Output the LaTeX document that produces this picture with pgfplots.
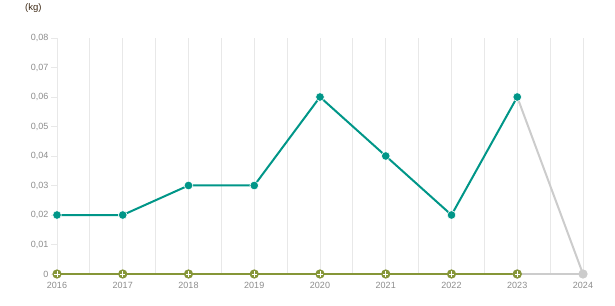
\documentclass[border=0pt]{standalone}
\usepackage{pgfplots}
\pgfplotsset{compat=1.18}
\usepackage{fontspec}
\setmainfont{Liberation Sans}
\definecolor{tealline}{RGB}{0,150,136}
\definecolor{oliveline}{RGB}{134,150,56}
\definecolor{fcgray}{RGB}{204,204,204}
\definecolor{gridc}{RGB}{232,232,232}
\definecolor{labc}{RGB}{140,140,140}
\definecolor{unitc}{RGB}{60,40,20}

\pgfplotstableread{
year val
2016 0.02
2017 0.02
2018 0.03
2019 0.03
2020 0.06
2021 0.04
2022 0.02
2023 0.06
}\measured
\pgfplotstableread{
year val
2023 0.06
2024 0
}\forecast
\pgfplotstableread{
year val
2016 0
2017 0
2018 0
2019 0
2020 0
2021 0
2022 0
2023 0
}\baseline
\pgfplotstableread{
year val
2023 0
2024 0
}\baseforecast

\begin{document}
\begin{tikzpicture}[x=1pt,y=1pt]
\path[use as bounding box] (0,0) rectangle (615,305);
\node[anchor=west, inner sep=0pt, text=unitc, font=\fontsize{9.5}{10}\selectfont] at (25,297) {(kg)};
\begin{axis}[
  at={(57pt,31pt)}, anchor=south west,
  scale only axis, width=526pt, height=236pt,
  xmin=2016, xmax=2024, ymin=0, ymax=0.08,
  clip=false,
  scaled y ticks=false,
  axis line style={draw=none},
  xtick={2016,2017,2018,2019,2020,2021,2022,2023,2024},
  xticklabels={2016,2017,2018,2019,2020,2021,2022,2023,2024},
  minor x tick num=1,
  xmajorgrids, xminorgrids,
  major grid style={gridc, line width=0.8pt},
  minor grid style={gridc, line width=0.8pt},
  xtick style={draw=none},
  minor x tick style={draw=none},
  ytick={0,0.01,0.02,0.03,0.04,0.05,0.06,0.07,0.08},
  yticklabels={0,{0,01},{0,02},{0,03},{0,04},{0,05},{0,06},{0,07},{0,08}},
  ytick pos=left,
  tick align=outside,
  major tick length=6pt,
  ytick style={draw=gridc, line width=0.8pt},
  ticklabel style={text=labc, font=\fontsize{9}{10}\selectfont},
  xticklabel style={yshift=1pt},
  yticklabel style={xshift=1pt},
]
% forecast baseline segment
\addplot[fcgray, line width=1.2pt, mark=*, mark size=4pt,
  mark options={fill=fcgray, draw=fcgray}] table[x=year,y=val] {\baseforecast};
% baseline series at zero
\addplot[oliveline, line width=1.2pt, mark=*, mark size=4pt,
  mark options={fill=oliveline, draw=oliveline}] table[x=year,y=val] {\baseline};
\addplot[only marks, mark=+, mark size=2.6pt, white, line width=0.8pt]
  table[x=year,y=val] {\baseline};
% forecast segment
\addplot[fcgray, line width=2pt, mark=none] table[x=year,y=val] {\forecast};
% measured values
\addplot[tealline, line width=2pt, mark=*, mark size=4.3pt,
  mark options={fill=tealline, draw=white, line width=0.6pt}] table[x=year,y=val] {\measured};
\end{axis}
\end{tikzpicture}
\end{document}
